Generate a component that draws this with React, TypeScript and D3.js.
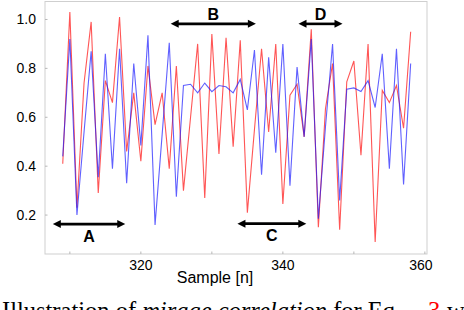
import React from "react";
import * as d3 from "d3";

const samples: number[] = d3.range(309, 359);
const redValues: number[] = [
  0.41, 1.03, 0.23, 0.74, 0.99, 0.29, 0.75, 0.66, 1.01, 0.46,
  0.70, 0.42, 0.81, 0.57, 0.70, 0.39, 0.81, 0.30, 0.60, 0.90,
  0.27, 0.94, 0.45, 0.925, 0.48, 0.915, 0.21, 0.55, 0.88, 0.54,
  0.90, 0.245, 0.69, 0.735, 0.52, 0.96, 0.15, 0.635, 0.82, 0.14,
  0.745, 0.83, 0.445, 0.90, 0.09, 0.71, 0.66, 0.73, 0.555, 0.95,
];
const blueValues: number[] = [
  0.44, 0.92, 0.20, 0.54, 0.87, 0.355, 0.86, 0.39, 0.88, 0.33,
  0.82, 0.485, 0.935, 0.16, 0.53, 0.905, 0.275, 0.73, 0.735, 0.70,
  0.74, 0.705, 0.73, 0.725, 0.70, 0.755, 0.63, 0.875, 0.365, 0.845,
  0.455, 0.90, 0.32, 0.805, 0.52, 0.92, 0.185, 0.56, 0.90, 0.26,
  0.715, 0.72, 0.705, 0.75, 0.64, 0.86, 0.39, 0.88, 0.325, 0.82,
];
const xTicks: number[] = [310, 320, 330, 340, 350, 360];
const xTickLabels: number[] = [320, 340, 360];
const yTicks: number[] = [0.2, 0.4, 0.6, 0.8, 1.0];

const arrowLabels: string[] = ["A", "B", "C", "D"];
const arrowStarts: number[] = [307.6, 324.2, 333.6, 342.2];
const arrowEnds: number[] = [317.8, 336.2, 343.3, 348.4];
const arrowLevels: number[] = [0.163, 0.982, 0.165, 0.982];
const arrowLabelSide: number[] = [1, -1, 1, -1];

const W = 464;
const H = 310;
const left = 45;
const right = 427;
const top = 1.5;
const bottom = 254;

export default function App() {
  const x = d3.scaleLinear().domain([306.5, 360.3]).range([left, right]);
  const y = d3.scaleLinear().domain([0.0408, 1.0735]).range([bottom, top]);
  const line = d3
    .line<number>()
    .x((_, i) => x(samples[i]))
    .y((d) => y(d));

  const font = "'Liberation Sans', Arial, Helvetica, sans-serif";

  return (
    <svg
      width={W}
      height={H}
      style={{ position: "absolute", left: 0, top: 0, background: "#fff" }}
    >
      <rect x={0} y={0} width={W} height={H} fill="#fff" />
      <rect
        x={left}
        y={top}
        width={right - left}
        height={bottom - top}
        fill="none"
        stroke="#cfcfcf"
        strokeWidth={1}
      />
      {xTicks.map((t) => (
        <line
          key={"xt" + t}
          x1={x(t)}
          x2={x(t)}
          y1={bottom}
          y2={bottom - 2.5}
          stroke="#b8b8b8"
          strokeWidth={1}
        />
      ))}
      {yTicks.map((t) => (
        <line
          key={"yt" + t}
          x1={left}
          x2={left + 2.5}
          y1={y(t)}
          y2={y(t)}
          stroke="#b8b8b8"
          strokeWidth={1}
        />
      ))}
      {xTickLabels.map((t) => (
        <text
          key={"xl" + t}
          x={x(t) - (t === 360 ? 4 : 0)}
          y={270}
          textAnchor="middle"
          fontFamily={font}
          fontSize={14}
          fill="#000"
        >
          {t}
        </text>
      ))}
      {yTicks.map((t) => (
        <text
          key={"yl" + t}
          x={36}
          y={y(t) + 5}
          textAnchor="end"
          fontFamily={font}
          fontSize={14}
          fill="#000"
        >
          {t.toFixed(1)}
        </text>
      ))}
      <text
        x={215}
        y={282.5}
        textAnchor="middle"
        fontFamily={font}
        fontSize={16}
        fill="#000"
      >
        Sample [n]
      </text>

      <path
        d={line(redValues) || ""}
        fill="none"
        stroke="rgba(255,20,20,0.72)"
        strokeWidth={1.1}
        strokeLinejoin="miter"
      />
      <path
        d={line(blueValues) || ""}
        fill="none"
        stroke="rgba(20,20,255,0.68)"
        strokeWidth={1.1}
        strokeLinejoin="miter"
      />

      {arrowLabels.map((lab, i) => {
        const x0 = x(arrowStarts[i]);
        const x1 = x(arrowEnds[i]);
        const yy = y(arrowLevels[i]);
        const hl = 8;
        const hw = 4;
        return (
          <g key={lab}>
            <line
              x1={x0 + hl - 1}
              x2={x1 - hl + 1}
              y1={yy}
              y2={yy}
              stroke="#000"
              strokeWidth={2.6}
            />
            <path
              d={`M${x0},${yy} L${x0 + hl},${yy - hw} L${x0 + hl},${yy + hw} Z`}
              fill="#000"
            />
            <path
              d={`M${x1},${yy} L${x1 - hl},${yy - hw} L${x1 - hl},${yy + hw} Z`}
              fill="#000"
            />
            <text
              x={(x0 + x1) / 2}
              y={arrowLabelSide[i] > 0 ? yy + 17.5 : yy - 4}
              textAnchor="middle"
              fontFamily={font}
              fontWeight="bold"
              fontSize={16}
              fill="#000"
            >
              {lab}
            </text>
          </g>
        );
      })}

      <text
        x={2}
        y={319}
        fontFamily="'Liberation Serif', 'Times New Roman', serif"
        fontSize={24.5}
        fill="#000"
      >
        <tspan>Illustration of </tspan>
        <tspan fontStyle="italic">mirage correlation</tspan>
        <tspan> for Eq.</tspan>
        <tspan x={428} fill="#ff0000">
          3
        </tspan>
        <tspan x={447}>w</tspan>
      </text>
    </svg>
  );
}
